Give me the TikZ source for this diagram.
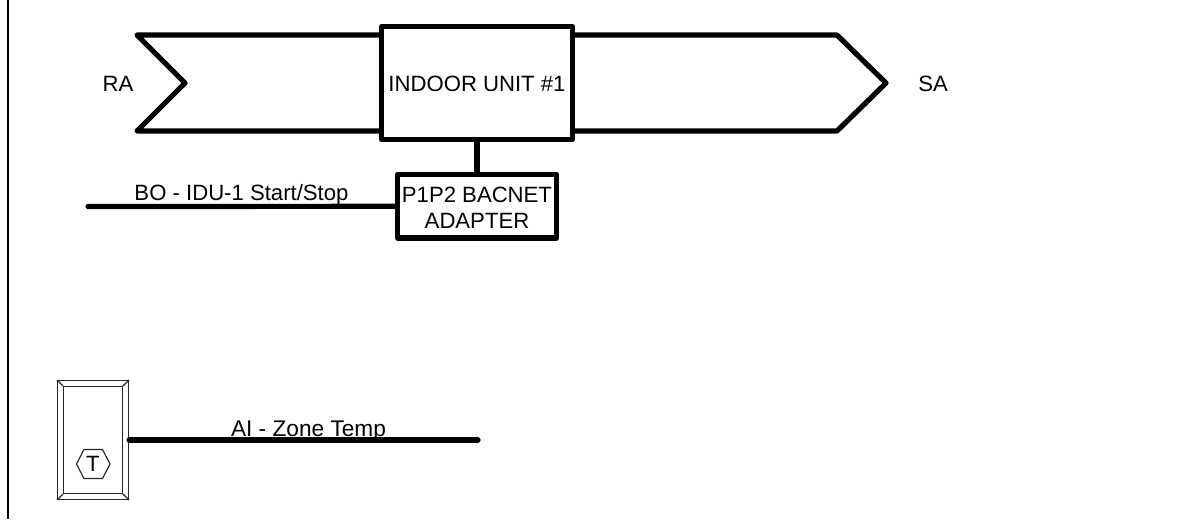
\documentclass[tikz,border=0pt]{standalone}
\usepackage{fontspec}
\setmainfont{Liberation Sans}
\tikzset{
  heavy/.style={draw=black,line width=3.9pt,line join=round,line cap=round},
  box/.style={heavy,fill=white},
  frameline/.style={draw=black,line width=1.5pt},
  thin/.style={draw=black!85,line width=0.85pt},
  lbl/.style={inner sep=0pt,font=\fontsize{16.6}{20}\selectfont,text=black,anchor=base},
}
\begin{document}
\begin{tikzpicture}[x=0.75pt,y=-0.75pt]
\useasboundingbox (0,0) rectangle (1180,519);
\fill[white] (0,0) rectangle (1180,519);
% frame
\coordinate (ftop) at (8,0);
\coordinate (fbot) at (8,519);
\draw[frameline] (ftop) -- (fbot);
% ducts
\coordinate (la) at (137,35);
\coordinate (lb) at (185,83);
\coordinate (lc) at (137,131);
\coordinate (ra) at (837,35);
\coordinate (rb) at (886,83);
\coordinate (rc) at (837,131);
\coordinate (lat) at (381,35);
\coordinate (lab) at (381,131);
\coordinate (rat) at (573,35);
\coordinate (rab) at (573,131);
\draw[heavy] (lat) -- (la) -- (lb) -- (lc) -- (lab);
\draw[heavy] (rat) -- (ra) -- (rb) -- (rc) -- (rab);
% indoor unit
\node[box,minimum width=143.25pt,minimum height=84.4pt,inner sep=0pt] (idu) at (477,83) {};
\node[lbl] at (477,91.8) {INDOOR UNIT \#1};
% adapter
\node[box,minimum width=119.25pt,minimum height=47.6pt,inner sep=0pt] (adp) at (477,206.3) {};
\node[lbl] at (477,202.8) {P1P2 BACNET};
\node[lbl] at (477,228.8) {ADAPTER};
\draw[heavy,line cap=butt] (idu.south) -- (adp.north);
% BO line
\coordinate (bo) at (88,206.5);
\draw[heavy] (bo) -- (adp.west);
\node[lbl] at (241.5,200.8) {BO - IDU-1 Start/Stop};
% thermostat
\node[thin,minimum width=53.25pt,minimum height=89.25pt,inner sep=0pt] (ts) at (93,440) {};
\node[thin,minimum width=44.25pt,minimum height=80.25pt,inner sep=0pt] (tsi) at (93,440) {};
\draw[thin] (ts.north west) -- (tsi.north west) (ts.north east) -- (tsi.north east)
            (ts.south west) -- (tsi.south west) (ts.south east) -- (tsi.south east);
\coordinate (h1) at (76.5,464);
\coordinate (h2) at (84,449.5);
\coordinate (h3) at (102.5,449.5);
\coordinate (h4) at (110,464);
\coordinate (h5) at (102.5,478.5);
\coordinate (h6) at (84,478.5);
\draw[thin,line join=round] (h1) -- (h2) -- (h3) -- (h4) -- (h5) -- (h6) -- cycle;
\node[lbl] at (93,471.5) {T};
% AI line
\coordinate (ai) at (478,440);
\draw[heavy] (ts.east) -- (ai);
\node[lbl,font=\fontsize{17}{20}\selectfont] at (308.5,436.3) {AI - Zone Temp};
% RA SA
\node[lbl] at (118,91.8) {RA};
\node[lbl] at (933,91.8) {SA};
\end{tikzpicture}
\end{document}
